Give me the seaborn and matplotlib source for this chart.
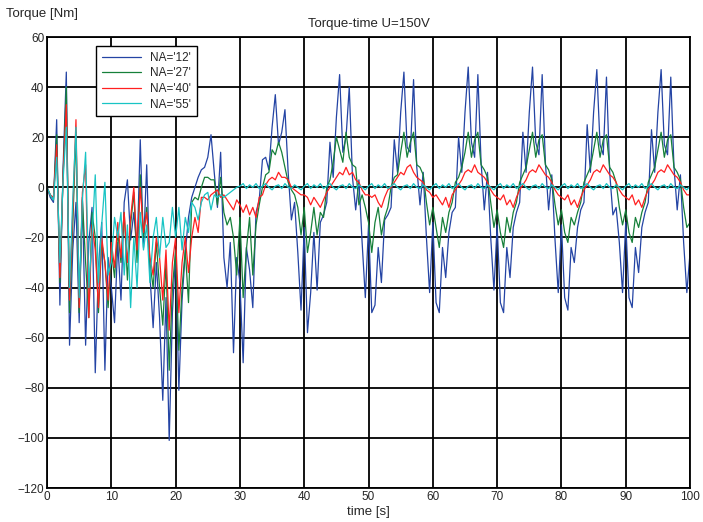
import matplotlib
matplotlib.use('Agg')
import matplotlib.pyplot as plt
import numpy as np
import pandas as pd
import seaborn as sns

# sampling grid, 0.5 s
time_s = np.arange(0, 100.5, 0.5)

series_names = ["NA='12'", "NA='27'", "NA='40'", "NA='55'"]

torque_12 = [
    0, -4, -6, 27, -47, 8, 46, -63, -25, -6, -54, -4, -63, -22, -8, -74, -32, -14, -73, -28,
    -40, -54, -22, -45, -6, 3, -21, -10, -26, 19, -24, 9, -35, -56, -30, -52, -85, -44, -101, -50,
    -26, -81, -45, -26, -12, -4, 0, 4, 7, 8, 12, 21, 6, -8, 14, -28, -40, -22, -66, -28,
    -38, -70, -24, -33, -48, -10, -5, 11, 12, 7, 24, 37, 17, 22, 31, 6, -13, -6, -26, -49,
    -16, -58, -42, -18, -41, -14, -11, -6, 18, 4, 28, 45, 14, 20, 40, 4, -9, 3, -22, -44,
    -15, -50, -47, -24, -38, -13, -11, -8, 19, 6, 30, 46, 16, 14, 43, 8, -7, 6, -20, -42,
    -14, -46, -50, -24, -36, -18, -10, -8, 20, 6, 30, 48, 18, 12, 45, 10, -9, 6, -20, -41,
    -15, -46, -50, -24, -36, -16, -10, -6, 22, 6, 30, 48, 18, 13, 45, 10, -9, 5, -21, -42,
    -15, -44, -49, -24, -30, -16, -9, -6, 25, 6, 30, 47, 17, 13, 44, 6, -11, -8, -22, -42,
    -14, -44, -48, -24, -34, -16, -10, -6, 23, 6, 30, 47, 17, 13, 44, 8, -9, 5, -22, -42,
    -26]

torque_27 = [
    0, -3, -5, 21, -38, 5, 40, -50, -15, 22, -50, -5, -30, -52, -10, -20, -50, -22, -30, -48,
    -25, -36, -18, -30, -10, -37, -15, -2, -30, 5, -20, -8, -30, -40, -22, -40, -55, -30, -73, -40,
    -25, -65, -40, -25, -46, -6, -4, -5, 0, 4, 4, 3, 3, -7, 4, -10, -15, -12, -20, -35,
    -12, -44, -25, -12, -35, -15, -7, 0, 5, 6, 15, 13, 18, 14, 8, 2, -1, -3, -8, -19,
    -8, -26, -18, -8, -19, -10, -12, 0, 3, 10, 20, 15, 10, 22, 12, 9, 8, -7, -3, -8,
    -14, -26, -14, -8, -19, -12, -8, 0, 4, 5, 14, 22, 12, 18, 22, 9, 8, 5, -6, -15,
    -8, -16, -24, -12, -18, -10, -6, 2, 4, 8, 14, 22, 12, 19, 22, 9, 7, 4, -6, -16,
    -9, -18, -24, -12, -18, -10, -6, 2, 5, 8, 15, 22, 12, 19, 21, 9, 7, 3, -7, -15,
    -9, -18, -22, -12, -15, -10, -6, 2, 5, 8, 15, 22, 12, 19, 21, 8, 6, 2, -8, -15,
    -9, -18, -22, -12, -16, -10, -6, 2, 5, 8, 15, 22, 12, 19, 21, 8, 6, 3, -8, -16,
    -14]

torque_40 = [
    0, -3, -4, 17, -36, 5, 33, -45, -10, 27, -48, -2, 9, -52, -15, -25, -48, -20, -30, -45,
    -22, -32, -14, -28, -10, -30, -12, 0, -25, 0, -18, -10, -28, -35, -20, -28, -45, -25, -57, -30,
    -20, -50, -30, -20, -34, -20, -12, -18, -4, -4, -5, -3, -2, -1, -4, -3, -5, -7, -9, -5,
    -7, -10, -7, -11, -8, -12, -4, -3, 1, 3, 4, 3, 6, 4, 4, 3, 0, -1, -2, -3,
    -3, -4, -7, -4, -6, -8, -5, -2, 0, 2, 4, 6, 5, 8, 5, 6, 3, 2, -1, -3,
    -3, -4, -3, -6, -8, -4, -1, 0, 2, 4, 6, 5, 8, 9, 6, 4, 3, 2, -1, -2,
    -4, -3, -5, -7, -4, -8, -3, -1, 1, 3, 6, 7, 6, 9, 6, 5, 4, 2, -1, -3,
    -4, -5, -3, -7, -5, -8, -4, -1, 1, 3, 6, 7, 6, 9, 7, 5, 4, 2, -1, -3,
    -4, -5, -3, -7, -5, -8, -4, -1, 1, 3, 6, 7, 6, 9, 7, 5, 4, 2, -1, -3,
    -4, -5, -3, -7, -5, -8, -4, -1, 1, 3, 6, 7, 6, 9, 7, 5, 4, 2, -1, -3,
    -3]

torque_55 = [
    0, -3, -5, 12, -30, 3, 24, -40, -5, 24, -44, -5, 14, -40, -20, 5, -38, -15, 2, -35,
    -30, -12, -20, -10, -35, -15, -48, -20, -40, -10, -25, -15, -38, -20, -12, -28, -12, -24, -22, -8,
    -20, -8, -25, -12, -18, -6, -8, -13, -6, -3, -2, -9, -3, -4, -3, -4, -3, -2, -1, 0,
    0.5, 1.5, -0.5, 1, 0, 1.5, -0.5, 0.5, 1.5, 0, -1, 0.5, 1, -0.5, 1.5, 0, -0.5, 1, 0, -1,
    0.5, 1.5, -0.5, 1, 0, 1.5, -0.5, 0.5, 1.5, 0, -1, 0.5, 1, -0.5, 1.5, 0, -0.5, 1, 0, -1,
    0.5, 1.5, -0.5, 1, 0, 1.5, -0.5, 0.5, 1.5, 0, -1, 0.5, 1, -0.5, 1.5, 0, -0.5, 1, 0, -1,
    0.5, 1.5, -0.5, 1, 0, 1.5, -0.5, 0.5, 1.5, 0, -1, 0.5, 1, -0.5, 1.5, 0, -0.5, 1, 0, -1,
    0.5, 1.5, -0.5, 1, 0, 1.5, -0.5, 0.5, 1.5, 0, -1, 0.5, 1, -0.5, 1.5, 0, -0.5, 1, 0, -1,
    0.5, 1.5, -0.5, 1, 0, 1.5, -0.5, 0.5, 1.5, 0, -1, 0.5, 1, -0.5, 1.5, 0, -0.5, 1, 0, -1,
    0.5, 1.5, -0.5, 1, 0, 1.5, -0.5, 0.5, 1.5, 0, -1, 0.5, 1, -0.5, 1.5, 0, -0.5, 1, 0, -1,
    0.5]

frames = []
for name, vals in zip(series_names, [torque_12, torque_27, torque_40, torque_55]):
    frames.append(pd.DataFrame({'time': time_s, 'torque': vals, 'NA': name}))
df = pd.concat(frames, ignore_index=True)

sns.set_style('white')
plt.rcParams['font.family'] = ['Liberation Sans', 'DejaVu Sans']

fig = plt.figure(figsize=(7.03, 5.22), dpi=100)
ax = fig.add_axes([0.0669, 0.0651, 0.9147, 0.864])

palette = {"NA='12'": '#2444a4', "NA='27'": '#16803a', "NA='40'": '#ff2020', "NA='55'": '#18c4c4'}
sns.lineplot(data=df, x='time', y='torque', hue='NA', hue_order=series_names,
             palette=palette, linewidth=0.9, estimator=None, sort=False, ax=ax)

ax.set_xlim(0, 100)
ax.set_ylim(-120, 60)
ax.set_xticks(range(0, 101, 10))
ax.set_yticks(range(-120, 61, 20))
ax.grid(True, color='black', linewidth=1.3)
ax.set_axisbelow(True)
ax.tick_params(direction='in', labelsize=8.5, length=4, color='black', pad=2)
for s in ax.spines.values():
    s.set_color('black')
    s.set_linewidth(1.3)

ax.set_xlabel('time [s]', fontsize=9.5, labelpad=2)
ax.set_ylabel('')
ax.set_title('Torque-time U=150V', fontsize=9.5, pad=7)
fig.text(6 / 703, 1 - 14 / 522, 'Torque [Nm]', ha='left', va='center', fontsize=9.5)

leg = ax.legend(loc='upper left', bbox_to_anchor=(0.076, 0.98), borderaxespad=0,
                fontsize=8.5, frameon=True, fancybox=False, framealpha=1,
                edgecolor='black', handlelength=3.3, borderpad=0.5, labelspacing=0.3)
leg.get_frame().set_linewidth(1.0)

fig.savefig('out.png', dpi=100)
